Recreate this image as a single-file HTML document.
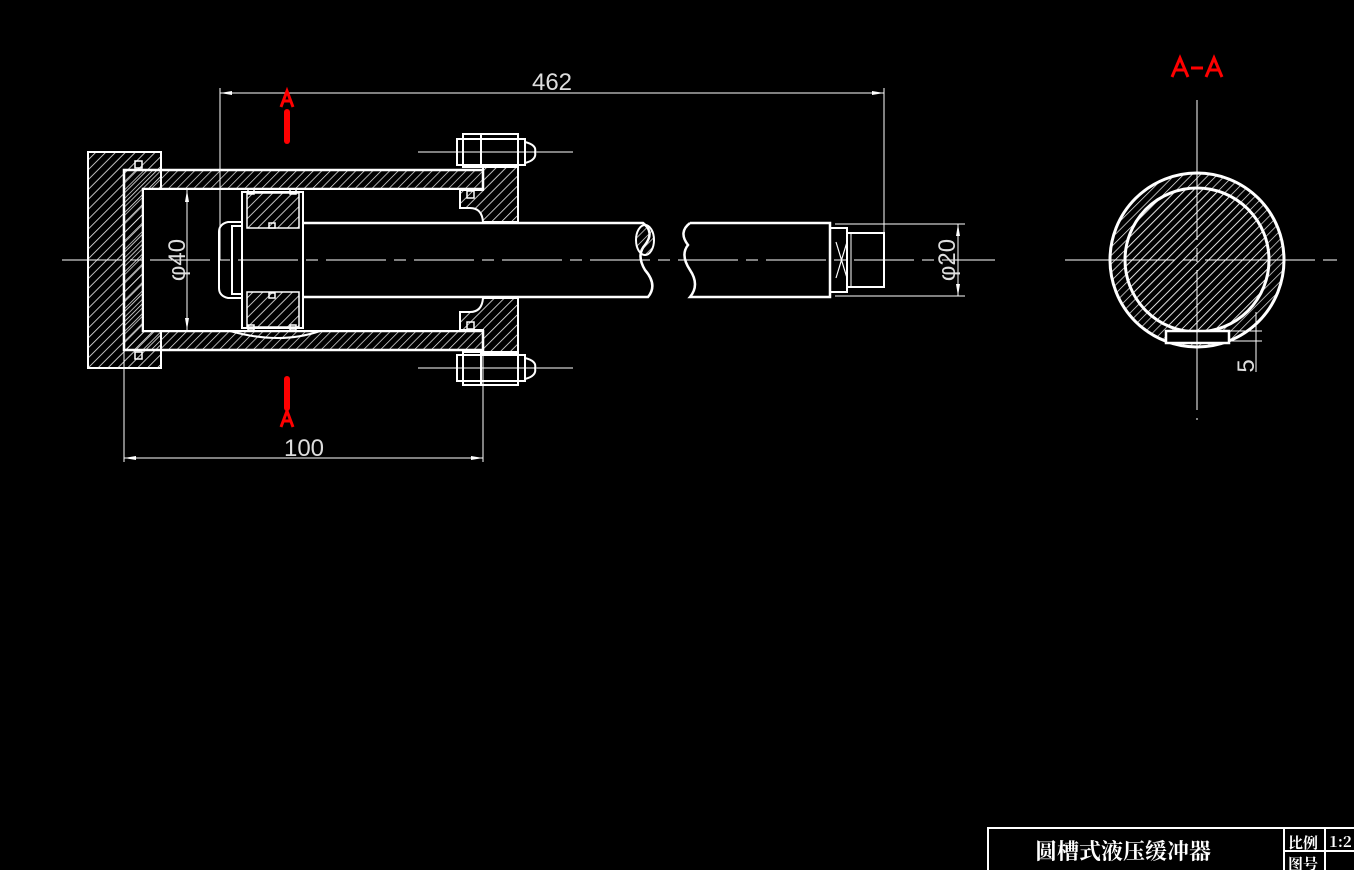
<!DOCTYPE html>
<html><head><meta charset="utf-8"><style>
html,body{margin:0;padding:0;background:#000;}
svg{display:block}
</style></head><body>
<svg width="1354" height="870" viewBox="0 0 1354 870" xmlns="http://www.w3.org/2000/svg" font-family="Liberation Sans, sans-serif">
<defs>
<pattern id="h" patternUnits="userSpaceOnUse" width="7" height="7" patternTransform="rotate(45)">
<line x1="0" y1="0" x2="0" y2="7" stroke="#eee" stroke-width="1.6"/>
</pattern>
<pattern id="h2" patternUnits="userSpaceOnUse" width="6" height="6" patternTransform="rotate(45)">
<line x1="0" y1="0" x2="0" y2="6" stroke="#eee" stroke-width="1.4"/>
</pattern>
</defs>
<rect width="1354" height="870" fill="#000"/>
<g stroke="#fff" fill="none">
<!-- flange -->
<rect x="88" y="152" width="73" height="216" fill="url(#h)" stroke-width="2"/>
<!-- tube -->
<path d="M124 170 H483 V189 H143 V331 H483 V350 H124 Z" fill="url(#h2)" stroke-width="2.5"/>
<path d="M483 189 H143 V331 H483" fill="#000" stroke-width="2"/>
<path d="M230 331 Q280 345 320 331" stroke-width="2"/>
<rect x="135" y="161" width="7" height="7" stroke-width="1.5"/>
<rect x="135" y="352" width="7" height="7" stroke-width="1.5"/>
<!-- front head -->
<path d="M483 167 H518 V222 H483 Q482 208 470 208 H460 V190 H483 Z" fill="url(#h)" stroke-width="2"/>
<path d="M483 353 H518 V298 H483 Q482 312 470 312 H460 V330 H483 Z" fill="url(#h)" stroke-width="2"/>
<rect x="467" y="191" width="7" height="7" stroke-width="1.5"/>
<rect x="467" y="322" width="7" height="7" stroke-width="1.5"/>
<!-- bolts -->
<g stroke-width="2">
<rect x="457" y="139" width="68" height="26"/>
<rect x="463" y="134" width="55" height="33"/>
<path d="M525 142 Q537 145 535 152 Q537 160 525 163"/>
<line x1="481" y1="134" x2="481" y2="167"/>
<rect x="457" y="355" width="68" height="26"/>
<rect x="463" y="352" width="55" height="33"/>
<path d="M525 358 Q537 361 535 368 Q537 376 525 379"/>
<line x1="481" y1="352" x2="481" y2="386"/>
</g>
<line x1="418" y1="152" x2="573" y2="152" stroke-width="1"/>
<line x1="418" y1="368" x2="573" y2="368" stroke-width="1"/>
<!-- piston -->
<rect x="242" y="192" width="61" height="136" stroke-width="2"/>
<rect x="247" y="193" width="52" height="35" fill="url(#h)" stroke-width="1.5"/>
<rect x="247" y="292" width="52" height="35" fill="url(#h)" stroke-width="1.5"/>
<rect x="248" y="189" width="6" height="5" stroke-width="1.5"/>
<rect x="290" y="189" width="6" height="5" stroke-width="1.5"/>
<rect x="248" y="325" width="6" height="5" stroke-width="1.5"/>
<rect x="290" y="325" width="6" height="5" stroke-width="1.5"/>
<rect x="269" y="223" width="6" height="5" stroke-width="1.5"/>
<rect x="269" y="293" width="6" height="5" stroke-width="1.5"/>
<!-- nut -->
<path d="M242 222 H228 Q219 224 219 232 V288 Q219 296 228 298 H242" stroke-width="2"/>
<rect x="232" y="226" width="10" height="68" stroke-width="2"/>
<!-- rod -->
<path d="M303 223 H643 Q655 232 645 245 Q636 255 645 270 Q658 285 648 297 H303" stroke-width="2.5"/>
<ellipse cx="645" cy="240" rx="9" ry="15" fill="url(#h2)" stroke-width="2"/>
<path d="M690 223 H830 V297 H690 Q700 285 690 270 Q680 255 688 245 Q678 232 690 223" stroke-width="2.5"/>
<rect x="830" y="228" width="17" height="64" stroke-width="2"/>
<path d="M836 242 L847 278 M847 242 L836 278" stroke-width="1.2"/>
<rect x="847" y="233" width="37" height="54" stroke-width="2"/>
<line x1="851" y1="233" x2="851" y2="287" stroke-width="1"/>
<!-- centerline -->
<path d="M62 260 H995" stroke-width="1" stroke-dasharray="60 8 12 8"/>
<!-- dims -->
<g stroke-width="1">
<line x1="220" y1="88" x2="220" y2="260"/>
<line x1="884" y1="88" x2="884" y2="233"/>
<line x1="220" y1="93" x2="884" y2="93"/>
<line x1="124" y1="350" x2="124" y2="462"/>
<line x1="483" y1="350" x2="483" y2="462"/>
<line x1="124" y1="458" x2="483" y2="458"/>
<line x1="187" y1="190" x2="187" y2="330"/>
<line x1="835" y1="224" x2="965" y2="224"/>
<line x1="835" y1="296" x2="965" y2="296"/>
<line x1="958" y1="224" x2="958" y2="296"/>
</g>
<g fill="#fff" stroke="none">
<path d="M220 93 l12 -2 v4 z M884 93 l-12 -2 v4z M124 458 l12 -2 v4z M483 458 l-12 -2 v4z M187 190 l-2 12 h4z M187 330 l-2 -12 h4z M958 224 l-2 12 h4z M958 296 l-2 -12 h4z"/>
</g>
</g>
<g fill="#ddd" font-size="24">
<text x="552" y="90" text-anchor="middle">462</text>
<text x="304" y="456" text-anchor="middle">100</text>
<text transform="translate(185 260) rotate(-90)" text-anchor="middle">φ40</text>
<text transform="translate(955 260) rotate(-90)" text-anchor="middle">φ20</text>
<text transform="translate(1254 366) rotate(-90)" text-anchor="middle">5</text>
</g>
<!-- section markers -->
<g fill="#f00" stroke="#f00">
<line x1="287" y1="112" x2="287" y2="141" stroke-width="6" stroke-linecap="round"/>
<line x1="287" y1="379" x2="287" y2="408" stroke-width="6" stroke-linecap="round"/>
</g>
<g fill="none" stroke="#f00" stroke-width="3">
<path d="M281 107 L287 91 L293 107 M283 101 H291"/>
<path d="M281 427 L287 411 L293 427 M283 421 H291"/>
<path d="M1172 77 L1180 58 L1188 77 M1175 70 H1185 M1191 68 H1203 M1206 77 L1214 58 L1222 77 M1209 70 H1219"/>
</g>
<!-- section view -->
<g stroke="#fff" fill="none">
<circle cx="1197" cy="260" r="87" fill="url(#h2)" stroke-width="3"/>
<circle cx="1197" cy="260" r="72" fill="url(#h2)" stroke-width="3"/>
<rect x="1166" y="331" width="63" height="12" fill="#000" stroke-width="2.5"/>
<line x1="1197" y1="100" x2="1197" y2="420" stroke-width="1" stroke-dasharray="140 8 14 8"/>
<line x1="1065" y1="260" x2="1340" y2="260" stroke-width="1" stroke-dasharray="110 8 14 8"/>
<line x1="1229" y1="331" x2="1262" y2="331" stroke-width="1"/>
<line x1="1229" y1="341" x2="1262" y2="341" stroke-width="1"/>
<line x1="1256" y1="312" x2="1256" y2="372" stroke-width="1"/>
</g>
<!-- title block -->
<g stroke="#fff" fill="none" stroke-width="2">
<rect x="988" y="828" width="370" height="44"/>
<line x1="1284" y1="828" x2="1284" y2="870"/>
<line x1="1325" y1="828" x2="1325" y2="870"/>
<line x1="1284" y1="851" x2="1354" y2="851"/>
</g>
<g fill="#fff" font-family="Noto Serif CJK SC, Liberation Serif, serif" font-weight="bold">
<text x="1123" y="859" font-size="22" text-anchor="middle">圆槽式液压缓冲器</text>
<text x="1288" y="848" font-size="15">比例</text>
<text x="1288" y="869" font-size="15">图号</text>
<text x="1329" y="847" font-size="15">1:2</text>
</g>
</svg>
</body></html>
